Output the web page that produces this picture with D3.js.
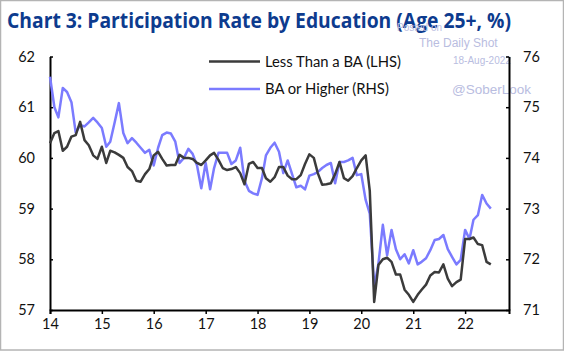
<!DOCTYPE html>
<html>
<head>
<meta charset="utf-8">
<script src="https://cdn.jsdelivr.net/npm/d3@7"></script>
<style>
  body { margin: 0; background: #fff; }
  svg { display: block; }
</style>
</head>
<body>
<svg></svg>
<script>
const width = 564, height = 351;
const margin = {top: 56.5, right: 55, bottom: 41, left: 50};

// monthly values, Jan 2014 - Jul 2022
const lessThanBA = [
  60.29, 60.49, 60.53, 60.14, 60.22, 60.42, 60.45, 60.71, 60.35, 60.25, 60.05, 59.98,
  60.22, 59.9, 60.14, 60.11, 60.06, 60.0, 59.82, 59.74, 59.55, 59.53, 59.68, 59.78,
  60.05, 60.12, 59.98, 59.85, 59.86, 59.86, 60.06, 60.0, 60.0, 59.98, 59.9, 59.86,
  59.95, 60.05, 60.1, 59.96, 59.8, 59.76, 59.78, 59.82, 59.7, 59.48, 59.88, 59.92,
  59.8, 59.8, 59.6, 59.53, 59.62, 59.82, 59.82, 59.65, 59.58, 59.58, 59.66, 59.88,
  60.07, 60.0, 59.7, 59.47, 59.48, 59.5, 59.68, 59.92, 59.6, 59.55, 59.64, 59.8,
  59.95, 60.05, 59.35, 57.16, 57.89, 58.0, 58.03, 57.95, 57.7, 57.7, 57.4, 57.3,
  57.16, 57.3, 57.4, 57.5, 57.68, 57.75, 57.74, 57.9, 57.62, 57.47, 57.55, 57.6,
  58.4, 58.4, 58.43, 58.3, 58.28, 57.95, 57.9
];
const baOrHigher = [
  75.6, 75.0, 74.8, 75.38, 75.3, 75.1, 74.5, 74.65, 74.62, 74.7, 74.79, 74.7,
  74.59, 74.22, 74.32, 74.7, 75.08, 74.49, 74.29, 74.39, 74.3, 74.2, 74.1, 74.16,
  73.85, 74.2, 74.45, 74.5, 74.48, 74.32, 73.9, 74.0, 74.18, 74.08, 73.85, 73.4,
  73.9, 73.38, 73.8, 74.1, 74.1, 74.1, 73.88, 73.95, 74.2, 73.55, 73.35, 73.3,
  73.27, 73.6, 74.05, 74.2, 74.3, 74.12, 73.7, 73.95, 73.68, 73.42, 73.45, 73.38,
  73.65, 73.68, 73.72, 73.8, 73.86, 73.9, 73.5, 73.92, 73.92, 73.95, 74.0, 73.66,
  73.68, 73.17, 72.9, 71.46, 71.92, 72.68, 72.08, 72.58, 72.2, 72.0, 72.1, 71.92,
  72.18, 71.9, 71.95, 72.02, 72.18, 72.38, 72.4, 72.48, 72.2, 72.05, 71.9, 71.99,
  72.58, 72.4, 72.78, 72.87, 73.27, 73.1, 73.0
];
const months = lessThanBA.map((d, i) => d3.timeMonth.offset(new Date(2014, 0, 1), i));
const yearTicks = d3.range(2014, 2023).map(y => new Date(y, 0, 1));
const leftTicks = [57, 58, 59, 60, 61, 62];
const rightTicks = [71, 72, 73, 74, 75, 76];

const svg = d3.select('svg')
  .attr('width', width)
  .attr('height', height);

// outer frame
svg.append('rect')
  .attr('x', 0.5).attr('y', 0.5)
  .attr('width', width - 1).attr('height', height - 1.5)
  .attr('fill', '#fff')
  .attr('stroke', '#b4b4b4')
  .attr('stroke-width', 1.5);

const xScale = d3.scaleTime()
  .domain([new Date(2014, 0, 1), new Date(2022, 10, 6)])
  .range([margin.left, width - margin.right]);
const yLeft = d3.scaleLinear().domain([57, 62]).range([height - margin.bottom, margin.top]);
const yRight = d3.scaleLinear().domain([71, 76]).range([height - margin.bottom, margin.top]);

// title
svg.append('text')
  .attr('x', 7).attr('y', 28)
  .attr('textLength', 504)
  .attr('lengthAdjust', 'spacingAndGlyphs')
  .style('font-family', '"Open Sans", sans-serif')
  .style('font-weight', 'bold')
  .style('font-size', '21px')
  .style('fill', '#0d3b8e')
  .text('Chart 3: Participation Rate by Education (Age 25+, %)');

// watermark (sits on top of the title end, as in the source)
const wm = svg.append('g')
  .style('font-family', '"Liberation Sans", Arial, sans-serif')
  .style('fill', '#b9bddf');
wm.append('text').attr('x', 397).attr('y', 31).style('font-size', '10px').text('Posted on');
wm.append('text').attr('x', 419).attr('y', 47).style('font-size', '12px').text('The Daily Shot');
wm.append('text').attr('x', 453).attr('y', 64).style('font-size', '10px').text('18-Aug-2022');
wm.append('text').attr('x', 452).attr('y', 94).style('font-size', '13.5px').text('@SoberLook');

const tickFont = g => g.selectAll('text')
  .style('font-family', 'Lato, "Open Sans", sans-serif')
  .style('font-size', '14.5px')
  .style('fill', '#111');

// axes
svg.append('g')
  .attr('transform', `translate(0,${height - margin.bottom})`)
  .call(d3.axisBottom(xScale).tickValues(yearTicks).tickFormat(d3.timeFormat('%y')).tickSize(4).tickPadding(5))
  .call(g => g.select('.domain').attr('stroke-width', 2))
  .call(g => g.selectAll('.tick line').attr('stroke-width', 1.5))
  .call(tickFont);

svg.append('g')
  .attr('transform', `translate(${margin.left},0)`)
  .call(d3.axisLeft(yLeft).tickValues(leftTicks).tickFormat(d3.format('d')).tickSize(-3).tickPadding(15).tickSizeOuter(0))
  .call(g => g.select('.domain').attr('stroke-width', 2))
  .call(g => g.selectAll('.tick line').attr('stroke-width', 1.5))
  .call(tickFont);

svg.append('g')
  .attr('transform', `translate(${width - margin.right},0)`)
  .call(d3.axisRight(yRight).tickValues(rightTicks).tickFormat(d3.format('d')).tickSize(-3).tickPadding(14).tickSizeOuter(0))
  .call(g => g.select('.domain').attr('stroke-width', 2))
  .call(g => g.selectAll('.tick line').attr('stroke-width', 1.5))
  .call(tickFont);

// lines
const lineLeft = d3.line().x((d, i) => xScale(months[i])).y(d => yLeft(d));
const lineRight = d3.line().x((d, i) => xScale(months[i])).y(d => yRight(d));

svg.append('path')
  .datum(baOrHigher)
  .attr('d', lineRight)
  .attr('fill', 'none')
  .attr('stroke', '#7b7bff')
  .attr('stroke-width', 2.5)
  .attr('stroke-linejoin', 'round');

svg.append('path')
  .datum(lessThanBA)
  .attr('d', lineLeft)
  .attr('fill', 'none')
  .attr('stroke', '#3b3b3b')
  .attr('stroke-width', 2.5)
  .attr('stroke-linejoin', 'round');

// legend
const legend = svg.append('g')
  .style('font-family', 'Lato, "Open Sans", sans-serif')
  .style('font-size', '14.8px')
  .style('fill', '#111');
[['Less Than a BA (LHS)', '#3b3b3b', 61.5], ['BA or Higher (RHS)', '#7b7bff', 89]].forEach(([label, color, y]) => {
  legend.append('line')
    .attr('x1', 209).attr('x2', 260)
    .attr('y1', y).attr('y2', y)
    .attr('stroke', color).attr('stroke-width', 2.5);
  legend.append('text')
    .attr('x', 265).attr('y', y + 5)
    .text(label);
});
</script>
</body>
</html>
